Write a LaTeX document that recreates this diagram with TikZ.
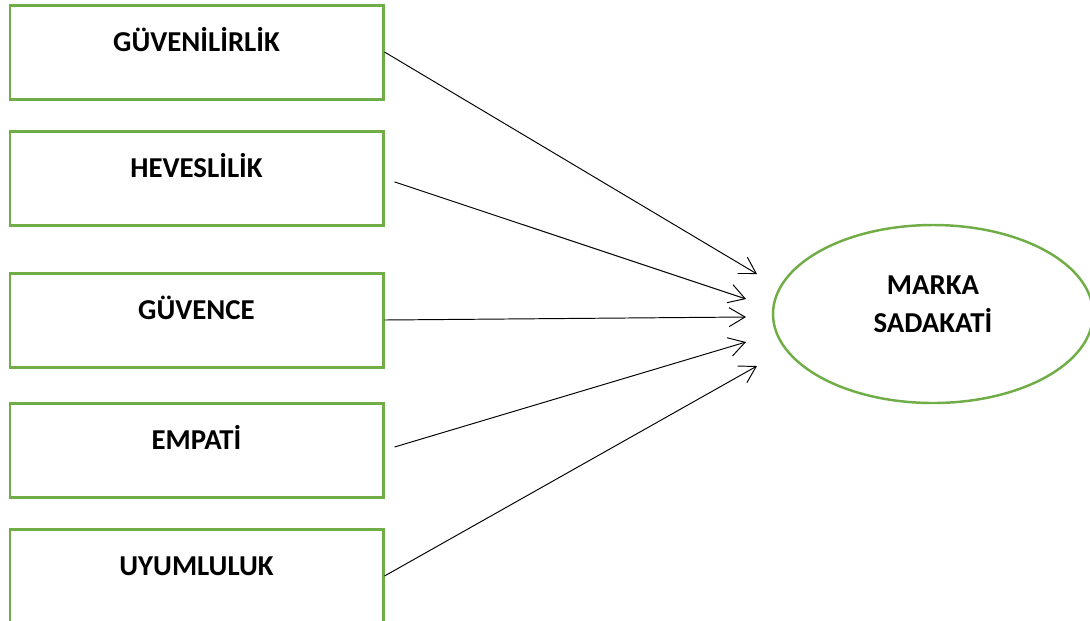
\documentclass[tikz,border=0pt]{standalone}
\usepackage{fontspec}
\setmainfont{Carlito}
\usetikzlibrary{arrows.meta, positioning, calc, shapes.geometric}
\definecolor{boxgreen}{RGB}{112,173,71}
\tikzset{
    factor/.style={rectangle, draw=boxgreen, line width=1.7pt, minimum width=7.46cm, minimum height=1.88cm, inner sep=0pt, font=\bfseries\fontsize{16.4}{19}\selectfont, text height=0.4cm, text depth=0.44cm},
    result/.style={ellipse, draw=boxgreen, line width=1.4pt, minimum width=6.4cm, minimum height=3.56cm, inner sep=0pt, align=center, font=\bfseries\fontsize{16.4}{21.6}\selectfont, text height=1.0cm, text depth=0.28cm},
    link/.style={-{Straight Barb[length=0.32cm, width=0.38cm]}, line width=0.55pt, black}
}
\begin{document}
\begin{tikzpicture}
    \useasboundingbox (0,0) rectangle (21.8,-12.4);

    % Boyutlar
    \node[factor] (guv) at (3.93,-1.04) {GÜVENİLİRLİK};
    \node[factor] (hev) at (3.93,-3.57) {HEVESLİLİK};
    \node[factor] (gvc) at (3.93,-6.40) {GÜVENCE};
    \node[factor] (emp) at (3.93,-9.00) {EMPATİ};
    \node[factor] (uyu) at (3.93,-11.52) {UYUMLULUK};

    % Marka sadakati
    \node[result] (ms) at (18.66,-6.28) {MARKA\\SADAKATİ};

    % Ok uçları
    \coordinate (e1) at (15.14,-5.48);
    \coordinate (e2) at (14.92,-5.98);
    \coordinate (e3) at (14.92,-6.34);
    \coordinate (e4) at (14.92,-6.84);
    \coordinate (e5) at (15.14,-7.32);

    % Bağlantılar
    \draw[link] (guv.east) -- (e1);
    \draw[link, shorten <=0.21cm] (hev.east) -- (e2);
    \draw[link] (gvc.east) -- (e3);
    \draw[link, shorten <=0.21cm] (emp.east) -- (e4);
    \draw[link] (uyu.east) -- (e5);
\end{tikzpicture}
\end{document}
